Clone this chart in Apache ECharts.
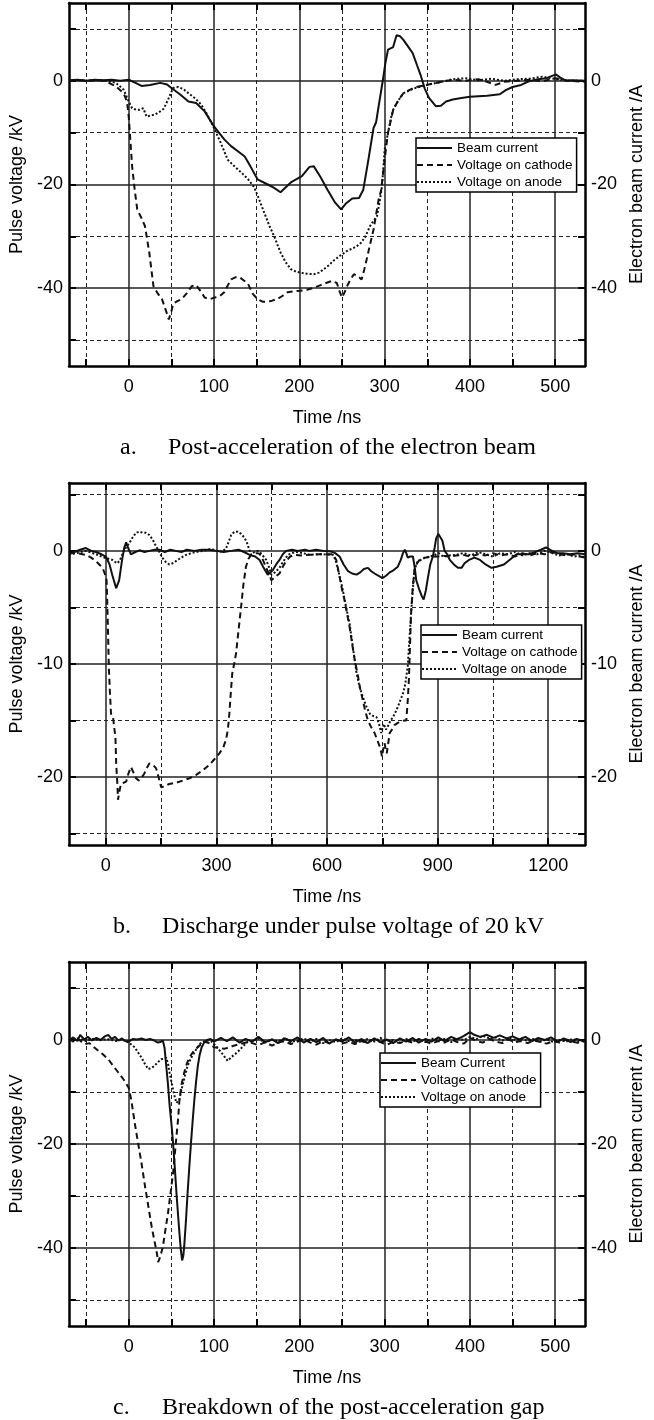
<!DOCTYPE html>
<html>
<head>
<meta charset="utf-8">
<script src="https://cdn.jsdelivr.net/npm/echarts@6/dist/echarts.min.js"></script>
<style>
html, body { margin: 0; padding: 0; background: #fff; }
#chart { width: 654px; height: 1420px; }
</style>
</head>
<body>
<div id="chart"></div>
<script>
// ---- panel a: post-acceleration ----
const beamA = [[-70,0.1],[-60,0.2],[-50,0],[-40,0.2],[-30,0.1],[-20,0.2],[-10,0],[0,0.2],[8,-0.4],[15,-1.0],[25,-0.8],[37,-0.4],[45,-0.7],[50,-1.4],[60,-2.6],[70,-4.0],[79,-4.3],[89,-5.9],[100,-8.8],[112,-11.3],[120,-12.6],[128,-13.6],[136,-14.6],[143,-16.6],[151,-19.0],[163,-20.0],[170,-20.6],[178,-21.5],[190,-19.6],[203,-18.4],[212,-16.6],[217,-16.5],[225,-18.6],[233,-21.0],[242,-23.5],[249,-24.8],[255,-23.6],[262,-22.7],[270,-22.6],[275,-21.0],[281,-15.2],[287,-9.1],[290,-8.0],[293,-4.9],[298,0.2],[301,3.5],[304,6.0],[310,6.5],[314,8.8],[318,8.6],[322,7.9],[328,6.5],[333,5.3],[338,3.0],[342,1.2],[347,-1.5],[352,-3.3],[360,-4.9],[366,-4.8],[372,-4.0],[380,-3.6],[390,-3.3],[400,-3.1],[410,-3.0],[420,-2.9],[435,-2.6],[442,-1.8],[450,-1.2],[460,-0.8],[469,-0.1],[480,0.3],[490,0.5],[497,1.0],[501,1.2],[506,0.6],[513,0],[520,0.1],[535,0]];
const cathodeA = [[-70,0],[-55,0.1],[-45,0],[-35,0.1],[-29,0],[-22,-0.5],[-15,-1.1],[-6,-2.4],[-2,-4.0],[0,-6.9],[4,-16.5],[7,-21],[10,-24.8],[15,-26.5],[19,-28.0],[24,-33],[29,-39.6],[34,-41.0],[39,-42.1],[44,-44.5],[47,-46.0],[50,-44.5],[52,-43.0],[57,-42.5],[62,-42.1],[68,-41],[74,-39.6],[79,-39.4],[84,-40.5],[89,-41.8],[95,-42.1],[101,-41.8],[107,-41.5],[112,-40.8],[116,-39.5],[120,-38.3],[125,-37.9],[130,-37.9],[135,-38.5],[140,-39.2],[145,-41.0],[151,-42.1],[157,-42.6],[163,-42.6],[168,-42.4],[174,-42.1],[180,-41.5],[186,-40.8],[194,-40.6],[201,-40.5],[209,-40.3],[217,-39.9],[225,-39.4],[233,-38.9],[238,-38.6],[244,-39.0],[247,-40.5],[250,-41.8],[253,-40.8],[256,-39.6],[260,-38.3],[264,-37.3],[268,-37.6],[273,-38.3],[276,-36.5],[279,-34.4],[283,-31.5],[287,-28.7],[290,-25.8],[293,-22.9],[296,-21.0],[298,-21.0],[300,-15.2],[302,-12.6],[304,-10.0],[307,-7.8],[310,-5.6],[316,-3.8],[322,-2.4],[330,-1.7],[337,-1.2],[349,-0.8],[364,-0.3],[380,0.2],[395,0],[410,0.3],[420,-0.2],[430,-0.8],[440,-0.2],[455,0],[470,0.2],[485,-0.1],[500,0.5],[515,0],[535,-0.2]];
const anodeA = [[-70,0],[-60,0.1],[-50,0],[-40,0.1],[-27,0],[-20,-0.2],[-15,-0.4],[-6,-1.7],[0,-4.0],[4,-5.3],[9,-5.6],[13,-5.6],[17,-5.3],[21,-6.9],[26,-6.7],[31,-6.5],[36,-6.0],[41,-5.4],[46,-3.7],[52,-1.4],[58,-1.2],[64,-1.6],[70,-2.4],[78,-3.4],[85,-4.6],[92,-6.5],[100,-9.1],[108,-12.0],[116,-15.2],[122,-16.2],[128,-17.1],[134,-18],[140,-19.0],[147,-20.5],[153,-22.9],[159,-25.5],[165,-28.0],[170,-29.8],[178,-33.1],[184,-35.0],[190,-36.3],[196,-36.8],[201,-37.0],[209,-37.2],[217,-37.3],[223,-37.0],[229,-36.3],[235,-35.5],[240,-34.7],[248,-33.7],[256,-32.8],[264,-32.2],[271,-31.5],[277,-30.2],[283,-28.0],[287,-27.0],[291,-26.1],[294,-23.5],[297,-20.3],[300,-13.3],[304,-10.0],[307,-7.5],[310,-5.6],[316,-3.8],[322,-2.4],[334,-1.5],[345,-1.0],[355,-0.6],[364,-0.3],[380,0.3],[395,0.5],[410,0.1],[425,0.4],[440,0],[455,0.3],[470,0.4],[485,0.8],[495,0.5],[505,0.2],[520,0],[535,0]];

// ---- panel b: discharge at 20 kV ----
const beamB = [[-100,-0.2],[-85,-0.1],[-70,0.1],[-54,0.25],[-40,0],[-27,-0.1],[-12,-0.3],[0,-0.5],[10,-1.2],[18,-2.2],[28,-3.3],[36,-2.6],[44,-0.8],[50,0.3],[55,0.75],[60,0.3],[68,-0.3],[80,-0.1],[91,0.05],[105,-0.1],[118,0],[132,0.1],[145,0.1],[160,-0.1],[175,0.1],[190,0],[205,-0.1],[220,0.1],[240,0],[260,0.1],[280,0.1],[300,0],[320,-0.1],[340,0],[360,0.1],[375,-0.1],[390,-0.35],[405,-0.5],[417,-0.8],[428,-1.5],[439,-2.1],[447,-1.9],[453,-1.7],[462,-1.2],[471,-0.8],[480,-0.3],[489,0],[505,0.1],[520,0],[540,0.1],[552,0],[570,0.1],[590,0],[611,-0.06],[622,-0.2],[634,-0.5],[645,-1.2],[657,-1.8],[668,-2.0],[680,-2.1],[690,-1.9],[700,-1.6],[711,-1.5],[720,-1.8],[729,-2.0],[740,-2.2],[750,-2.4],[760,-2.2],[770,-1.9],[781,-1.7],[792,-1.4],[800,-0.8],[806,-0.2],[811,0.1],[815,-0.2],[819,-0.6],[826,-0.5],[833,-0.5],[838,-1.5],[842,-2.6],[847,-3.1],[851,-3.5],[857,-4.0],[862,-4.3],[868,-3.5],[874,-2.3],[880,-1.2],[887,-0.5],[892,0.3],[896,1.1],[902,1.5],[907,1.6],[913,0.9],[919,0],[926,-0.3],[933,-0.8],[944,-1.2],[955,-1.5],[965,-1.5],[973,-1.1],[985,-0.8],[1000,-0.6],[1015,-0.8],[1030,-1.2],[1046,-1.5],[1060,-1.4],[1080,-1.2],[1095,-0.8],[1114,-0.3],[1130,-0.3],[1148,-0.3],[1165,-0.1],[1180,0.1],[1194,0.3],[1210,0],[1225,-0.2],[1240,-0.2],[1260,-0.3],[1280,-0.2],[1300,-0.3]];
const cathodeB = [[-100,-0.2],[-80,-0.2],[-54,-0.35],[-40,-0.6],[-27,-0.9],[-18,-1.2],[-9,-1.5],[-3,-2.0],[2,-2.6],[5,-6],[8,-10.2],[11,-12.5],[14,-14.4],[19,-14.6],[23,-14.7],[26,-16.5],[28,-18.8],[31,-20.5],[33,-22.0],[37,-21.2],[41,-20.6],[48,-20.5],[55,-20.4],[61,-19.7],[68,-19.1],[75,-19.6],[82,-20.1],[89,-20.3],[95,-20.1],[100,-19.9],[104,-19.7],[111,-19.2],[118,-18.8],[127,-18.9],[136,-19.2],[143,-20.0],[150,-20.9],[160,-20.8],[172,-20.6],[190,-20.5],[209,-20.3],[227,-20.1],[245,-19.8],[263,-19.4],[281,-18.9],[295,-18.4],[308,-17.9],[318,-17.4],[326,-16.7],[331,-15.8],[335,-14.4],[339,-12.5],[343,-10.8],[348,-10.0],[353,-9.1],[360,-7.0],[367,-4.9],[373,-3.0],[380,-1.4],[387,-0.7],[394,-0.35],[408,-0.2],[417,-0.25],[426,-0.8],[435,-1.5],[442,-2.0],[449,-2.6],[456,-2.4],[463,-2.2],[471,-2.0],[480,-1.4],[489,-0.9],[500,-0.5],[512,-0.35],[530,-0.4],[552,-0.35],[580,-0.3],[600,-0.3],[616,-0.3],[625,-0.8],[634,-2.3],[640,-3.3],[647,-4.3],[654,-5.5],[661,-6.7],[668,-8.2],[675,-9.6],[684,-11.1],[690,-12.2],[697,-13.2],[704,-14.2],[711,-15.0],[720,-15.6],[729,-16.1],[736,-16.7],[743,-17.3],[747,-17.8],[749,-18.2],[752,-17.6],[756,-17.0],[759,-17.5],[762,-17.9],[766,-17.0],[770,-16.1],[776,-15.8],[783,-15.4],[792,-15.2],[801,-15.1],[808,-15.0],[815,-15.0],[819,-13.2],[822,-11.4],[825,-8.5],[828,-5.5],[832,-3.5],[837,-1.7],[844,-1.1],[851,-0.8],[865,-0.6],[878,-0.55],[892,-0.5],[905,-0.5],[919,-0.45],[933,-0.5],[951,-0.4],[969,-0.35],[990,-0.5],[1010,-0.3],[1030,-0.4],[1050,-0.2],[1070,-0.4],[1090,-0.3],[1110,-0.5],[1130,-0.2],[1150,-0.4],[1170,-0.2],[1190,-0.3],[1210,-0.1],[1230,-0.3],[1250,-0.4],[1270,-0.3],[1285,-0.5],[1300,-0.6]];
const anodeB = [[-100,-0.3],[-80,-0.2],[-54,0.0],[-27,-0.3],[0,-0.65],[18,-0.8],[30,-1.1],[37,-0.9],[45,-0.3],[50,0.1],[57,0.4],[64,0.7],[73,1.2],[82,1.6],[91,1.7],[100,1.6],[109,1.6],[118,1.4],[127,1.0],[136,0.4],[145,-0.1],[154,-0.65],[163,-1.0],[172,-1.2],[181,-1.1],[190,-0.9],[204,-0.6],[218,-0.35],[232,-0.2],[245,-0.1],[263,0],[281,0.15],[295,0.1],[308,-0.1],[318,0],[326,0.2],[333,0.8],[340,1.4],[349,1.7],[358,1.7],[367,1.5],[375,1.2],[382,0.8],[388,0.2],[394,-0.35],[403,-0.1],[412,0],[420,-0.2],[428,-0.5],[435,-0.8],[442,-1.4],[449,-2.1],[455,-2.0],[462,-1.8],[471,-1.5],[482,-0.9],[494,-0.35],[505,-0.2],[516,-0.1],[535,-0.2],[552,-0.35],[570,-0.3],[590,-0.3],[616,-0.35],[623,-0.8],[630,-1.7],[637,-2.6],[643,-3.5],[652,-5.0],[661,-6.4],[670,-8.5],[680,-10.8],[688,-12.0],[697,-12.9],[706,-13.7],[716,-14.4],[725,-14.6],[734,-14.7],[741,-15.3],[747,-16.1],[751,-15.6],[754,-15.3],[760,-15.8],[765,-15.5],[772,-15.0],[779,-14.7],[785,-14.3],[792,-13.8],[799,-13.2],[806,-12.6],[812,-11.8],[819,-10.2],[823,-8.0],[828,-5.5],[833,-3.2],[837,-1.7],[845,-1.0],[855,-0.8],[866,-0.6],[878,-0.5],[890,-0.4],[903,-0.2],[915,-0.5],[933,-0.4],[951,-0.35],[970,-0.2],[990,-0.4],[1010,-0.1],[1030,-0.3],[1050,-0.5],[1070,-0.2],[1090,-0.3],[1110,-0.1],[1130,-0.4],[1150,-0.2],[1170,-0.3],[1190,0],[1210,-0.2],[1230,-0.4],[1250,-0.3],[1270,-0.5],[1285,-0.4],[1300,-0.6]];

// ---- panel c: breakdown of the gap ----
const beamC = [[-70,0],[-65,0.5],[-60,-0.2],[-57,1.0],[-52,0.1],[-48,0.6],[-43,-0.1],[-38,0.4],[-33,0],[-28,0.7],[-24,1.0],[-20,0.2],[-16,0.6],[-12,-0.1],[-8,0.3],[-4,-0.2],[0,-0.3],[5,0.2],[10,0.1],[15,0.3],[20,0],[25,0.2],[30,-0.1],[34,-0.5],[37,-0.4],[40,-0.1],[42,-1.5],[44,-5.0],[46,-8.5],[48,-12.7],[50,-16],[52,-19.8],[54,-24.5],[56,-29.5],[58,-34],[59.5,-37.2],[61,-40.2],[62.6,-42.4],[64,-41.5],[65,-39.8],[67,-35],[69,-29.5],[71,-24.5],[73,-19.8],[75,-15.5],[77,-11.4],[79,-8.0],[81,-5.0],[83,-3.0],[85.5,-1.4],[88,-0.6],[92,0],[96,0.2],[100,-0.3],[108,0.4],[115,-0.2],[122,0.5],[130,-0.5],[137,0.2],[145,-0.3],[152,0.6],[160,-0.4],[168,0.1],[175,-0.6],[183,0.3],[190,-0.2],[198,0.5],[205,-0.5],[213,0.2],[220,-0.4],[228,0.4],[235,-0.7],[243,0.1],[250,-0.3],[258,0.5],[265,-0.5],[273,0.2],[280,-0.6],[288,0.3],[295,-0.4],[303,0.1],[310,-0.6],[318,0.3],[325,-0.3],[333,0.4],[340,-0.5],[348,0.2],[355,-0.3],[363,0.5],[370,-0.2],[378,0.6],[385,0.1],[393,0.8],[400,1.5],[405,1.0],[412,0.6],[420,1.0],[428,0.4],[435,0.9],[443,0.3],[450,0.7],[458,0.1],[465,0.6],[473,-0.2],[480,0.4],[488,0],[495,0.5],[503,-0.3],[510,0.3],[518,-0.4],[525,0.2],[535,-0.3]];
const cathodeC = [[-70,0.2],[-65,-0.3],[-60,0.3],[-55,-0.4],[-51,-0.8],[-46,-0.6],[-42,-1.2],[-35.5,-2.1],[-30,-2.8],[-24,-3.7],[-18,-5.0],[-12,-6.3],[-6,-7.6],[0,-9.2],[3,-11.5],[7,-15.9],[11,-19.8],[15,-23.7],[19,-28],[23,-32],[27,-36],[30,-38.5],[33,-41],[34.5,-42.7],[36,-42.1],[38,-41],[40,-39.8],[43,-36.5],[46,-33.4],[49,-29.5],[52,-25.6],[54,-22],[56,-18.5],[58,-15],[59.5,-11.4],[62,-8.5],[65,-6.3],[68,-4.6],[71,-3.4],[75,-2.4],[79,-1.7],[84,-0.9],[88.6,-0.3],[94,-0.6],[100,-1.4],[106,-1.5],[112,-1.7],[118,-1.4],[123,-1.1],[130,-0.8],[139,-0.4],[145,-0.6],[152,-1.0],[160,-0.4],[168,-1.1],[175,-0.5],[183,-0.2],[190,-0.8],[198,-0.3],[205,0.1],[213,-0.5],[220,-0.9],[228,-0.2],[235,-0.6],[243,0.1],[250,-0.7],[258,-0.3],[265,-0.8],[273,-0.2],[280,-0.5],[288,0.2],[295,-0.4],[303,-0.9],[310,-0.3],[318,-0.6],[325,-0.1],[333,-0.5],[340,0.2],[348,-0.3],[355,-0.7],[363,-0.2],[370,-0.5],[378,0.1],[385,-0.4],[393,-0.7],[400,0.4],[408,-0.2],[415,-0.5],[423,0.2],[430,-0.3],[438,-0.6],[445,0.1],[453,-0.4],[460,-0.2],[468,-0.6],[475,-0.1],[483,-0.4],[490,-0.7],[498,-0.2],[505,-0.5],[513,0.1],[520,-0.3],[528,-0.6],[535,-0.2]];
const anodeC = [[-70,0],[-60,0.3],[-50,-0.2],[-40,0.3],[-35.5,-0.1],[-25,0.2],[-15,-0.2],[-8,0.1],[0,-0.5],[7,-1.4],[11,-2.4],[15,-3.4],[19,-4.6],[23,-5.6],[26,-5.4],[30,-5.0],[34,-4.3],[38,-3.7],[41,-3.6],[44,-3.4],[46,-4.5],[48,-6.3],[50,-8],[52,-9.5],[54,-11],[56,-12.1],[58,-12.3],[59.5,-11.4],[61,-10.2],[63,-8.8],[66,-6.8],[69,-5.0],[73,-3.5],[77,-2.4],[81,-1.3],[85,-0.5],[92,-0.1],[97,-0.3],[102,-1.1],[109,-2.5],[116,-4.0],[121,-3.2],[127,-2.4],[133,-1.4],[139,-0.4],[145,-0.2],[152,0.3],[160,-0.5],[168,0.1],[175,-0.3],[183,0.4],[190,-0.4],[198,-0.1],[205,0.3],[213,-0.3],[220,0.2],[228,-0.6],[235,0],[243,-0.4],[250,0.3],[258,-0.2],[265,0.1],[273,-0.5],[280,0.2],[288,-0.3],[295,0.4],[303,-0.2],[310,0],[318,-0.5],[325,0.2],[333,-0.3],[340,0.1],[348,-0.4],[355,0.3],[363,-0.1],[370,0.2],[378,-0.4],[385,0.3],[393,0],[400,0.6],[408,0.2],[415,0.8],[423,0.3],[430,0.5],[438,-0.1],[445,0.4],[453,0],[460,0.3],[468,-0.2],[475,0.2],[483,-0.3],[490,0.1],[498,-0.4],[505,0],[513,-0.3],[520,0.2],[528,-0.3],[535,0]];

// ticks
const xTicksA = [0, 100, 200, 300, 400, 500];
const xMinorA = [-50, 50, 150, 250, 350, 450];
const yTicksA = [-40, -20, 0];
const yMinorA = [-50, -30, -10, 10];
const xTicksB = [0, 300, 600, 900, 1200];
const xMinorB = [150, 450, 750, 1050];
const yTicksB = [-20, -10, 0];
const yMinorB = [-25, -15, -5, 5];

const legendNames = ['Beam current', 'Voltage on cathode', 'Voltage on anode'];
const legendNamesC = ['Beam Current', 'Voltage on cathode', 'Voltage on anode'];
const captions = [
  ['a.', 'Post-acceleration of the electron beam'],
  ['b.', 'Discharge under pulse voltage of 20 kV'],
  ['c.', 'Breakdown of the post-acceleration gap']
];

const INK = '#111';
const SANS = '"Liberation Sans", Arial, sans-serif';
const SERIF = '"Liberation Serif", "Times New Roman", serif';

const panels = [
  { grid: { left: 69, top: 3, width: 521, height: 363 }, x: [-70, 535], y: [-55, 15],
    xt: xTicksA, xm: xMinorA, yt: yTicksA, ym: yMinorA, data: [beamA, cathodeA, anodeA], names: legendNames,
    legend: { left: 416, top: 138 }, cap: { y: 448, a: 120, t: 168 } },
  { grid: { left: 69, top: 483, width: 521, height: 362 }, x: [-100, 1300], y: [-26, 6],
    xt: xTicksB, xm: xMinorB, yt: yTicksB, ym: yMinorB, data: [beamB, cathodeB, anodeB], names: legendNames,
    legend: { left: 421, top: 625 }, cap: { y: 927, a: 113, t: 162 } },
  { grid: { left: 69, top: 962, width: 521, height: 364 }, x: [-70, 535], y: [-55, 15],
    xt: xTicksA, xm: xMinorA, yt: yTicksA, ym: yMinorA, data: [beamC, cathodeC, anodeC], names: legendNamesC,
    legend: { left: 380, top: 1053 }, cap: { y: 1408, a: 113, t: 162 } }
];

const frame = { show: true, onZero: false, lineStyle: { color: '#000', width: 2.5 } };
const tick = vals => ({ show: true, inside: true, length: 7, customValues: vals, lineStyle: { color: '#000', width: 2 } });
const solidGrid = { show: true, lineStyle: { color: '#222', width: 1.5 } };
const dashGrid = { show: true, lineStyle: { color: '#222', width: 1, type: [4, 3] } };
const labelStyle = { fontSize: 18, fontFamily: SANS, color: '#000' };
const plain = v => String(v);

const xAxis = [], yAxis = [], series = [], legend = [], graphic = [];

panels.forEach((p, g) => {
  const xb = { type: 'value', gridIndex: g, min: p.x[0], max: p.x[1], axisLine: { show: false, onZero: false },
    axisLabel: { show: false }, axisTick: { show: false }, splitLine: { show: false } };
  const yb = { type: 'value', gridIndex: g, min: p.y[0], max: p.y[1], axisLine: { show: false, onZero: false },
    axisLabel: { show: false }, axisTick: { show: false }, splitLine: { show: false } };

  xAxis.push(
    Object.assign({}, xb, { position: 'bottom', axisLine: frame, axisTick: tick(p.xt), splitLine: solidGrid,
      axisLabel: Object.assign({ show: true, customValues: p.xt, margin: 12, formatter: plain }, labelStyle),
      name: 'Time /ns', nameLocation: 'middle', nameGap: 43, nameTextStyle: labelStyle }),
    Object.assign({}, xb, { position: 'bottom', axisTick: tick(p.xm), splitLine: dashGrid }),
    Object.assign({}, xb, { position: 'top', axisLine: frame, axisTick: tick(p.xt) }),
    Object.assign({}, xb, { position: 'top', axisTick: tick(p.xm) })
  );
  yAxis.push(
    Object.assign({}, yb, { position: 'left', axisLine: frame, axisTick: tick(p.yt), splitLine: solidGrid,
      axisLabel: Object.assign({ show: true, customValues: p.yt, margin: 6, formatter: plain }, labelStyle),
      name: 'Pulse voltage /kV', nameLocation: 'middle', nameGap: 37, nameTextStyle: labelStyle }),
    Object.assign({}, yb, { position: 'right', axisLine: frame, axisTick: tick(p.yt),
      axisLabel: Object.assign({ show: true, customValues: p.yt, margin: 6, formatter: plain }, labelStyle),
      name: 'Electron beam current /A', nameLocation: 'middle', nameGap: 40, nameTextStyle: labelStyle }),
    Object.assign({}, yb, { position: 'left', axisTick: tick(p.ym), splitLine: dashGrid }),
    Object.assign({}, yb, { position: 'right', axisTick: tick(p.ym) })
  );

  const styles = [
    { width: 2, type: 'solid' },
    { width: 2, type: [6, 4] },
    { width: 2, type: [2, 2] }
  ];
  p.data.forEach((d, i) => {
    series.push({
      type: 'line', name: p.names[i], data: d, symbol: 'none', color: INK,
      xAxisIndex: g * 4, yAxisIndex: g * 4 + (i === 0 ? 1 : 0),
      lineStyle: Object.assign({ color: INK }, styles[i]), z: 5
    });
  });

  legend.push({
    data: p.names, left: p.legend.left, top: p.legend.top, orient: 'vertical', selectedMode: false,
    itemWidth: 35, itemHeight: 12, itemGap: 3, padding: [3, 4, 3, 0],
    itemStyle: { color: 'rgba(0,0,0,0)', borderWidth: 0, opacity: 0 },
    lineStyle: { width: 2 },
    borderColor: '#000', borderWidth: 1.5, backgroundColor: '#fff',
    textStyle: { fontSize: 13.5, fontFamily: SANS, color: '#000' }, z: 10
  });

  graphic.push(
    { type: 'text', x: p.cap.a, y: p.cap.y, style: { text: captions[g][0], font: '24px ' + SERIF, fill: '#000', verticalAlign: 'middle' } },
    { type: 'text', x: p.cap.t, y: p.cap.y, style: { text: captions[g][1], font: '24px ' + SERIF, fill: '#000', verticalAlign: 'middle' } }
  );
});

const chart = echarts.init(document.getElementById('chart'));
chart.setOption({
  animation: false,
  backgroundColor: '#fff',
  grid: panels.map(p => p.grid),
  xAxis, yAxis, series, legend, graphic
});
</script>
</body>
</html>
